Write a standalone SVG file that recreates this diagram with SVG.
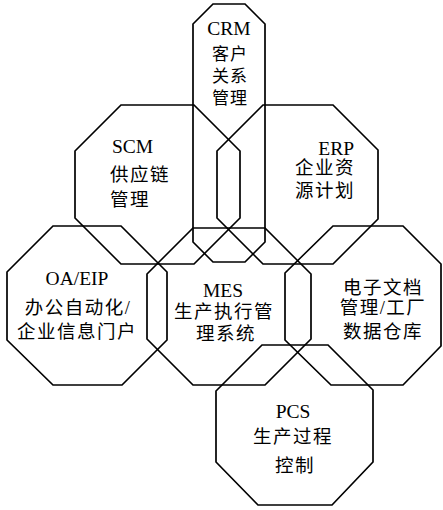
<svg xmlns="http://www.w3.org/2000/svg" width="443" height="510" viewBox="0 0 443 510">
<style>
.oct{fill:none;stroke:#000;stroke-width:1.7;stroke-linejoin:miter}
.t{font-family:"Liberation Serif","Noto Sans CJK SC",serif;fill:#000}
.lat{font-size:19.5px}
.cjk{font-size:18.5px;letter-spacing:1.5px}
.cjks{font-size:17px;letter-spacing:1px}
</style>
<rect width="443" height="510" fill="#fff"/>
<g id="crm">
<polygon class="oct" points="213,4 245,4 265,24 265,242 245,262 213,262 193,242 193,24"/>
<text class="t lat" x="229" y="35" text-anchor="middle">CRM</text>
<text class="t cjks" x="230" y="60" text-anchor="middle">客户</text>
<text class="t cjks" x="230" y="82" text-anchor="middle">关系</text>
<text class="t cjks" x="230" y="104" text-anchor="middle">管理</text>
</g>
<g id="scm">
<polygon class="oct" points="121,105 194,105 240,151 240,218 194,264 121,264 75,218 75,151"/>
<text class="t lat" x="112" y="153">SCM</text>
<text class="t cjk" x="110" y="181">供应链</text>
<text class="t cjk" x="110" y="206">管理</text>
</g>
<g id="erp">
<polygon class="oct" points="263,105 333,105 378,150 378,219 333,264 263,264 217,218 217,151"/>
<text class="t lat" x="354" y="155" text-anchor="end">ERP</text>
<text class="t cjk" x="355" y="174" text-anchor="end">企业资</text>
<text class="t cjk" x="355" y="197" text-anchor="end">源计划</text>
</g>
<g id="oa">
<polygon class="oct" points="53,226 121,226 167,272 167,340 122,385 53,385 7,340 7,272"/>
<text class="t lat" x="77" y="285" text-anchor="middle">OA/EIP</text>
<text class="t cjk" x="78" y="314" text-anchor="middle">办公自动化/</text>
<text class="t cjk" x="77" y="338" text-anchor="middle">企业信息门户</text>
</g>
<g id="mes">
<polygon class="oct" points="193,228 265,228 311,274 311,339 265,385 193,385 147,339 147,274"/>
<text class="t lat" x="223" y="297" text-anchor="middle">MES</text>
<text class="t cjk" x="224" y="318" text-anchor="middle">生产执行管</text>
<text class="t cjk" x="226" y="340" text-anchor="middle">理系统</text>
</g>
<g id="doc">
<polygon class="oct" points="333,226 403,226 441,264 441,346 403,385 331,385 285,340 285,273"/>
<text class="t cjk" x="383" y="294" text-anchor="middle">电子文档</text>
<text class="t cjk" x="383" y="314" text-anchor="middle">管理/工厂</text>
<text class="t cjk" x="383" y="338" text-anchor="middle">数据仓库</text>
</g>
<g id="pcs">
<polygon class="oct" points="262,345 328,345 373,390 373,462 332,505 258,505 216,462 216,391"/>
<text class="t lat" x="293" y="418" text-anchor="middle">PCS</text>
<text class="t cjk" x="293" y="443" text-anchor="middle">生产过程</text>
<text class="t cjk" x="295" y="472" text-anchor="middle">控制</text>
</g>
</svg>
